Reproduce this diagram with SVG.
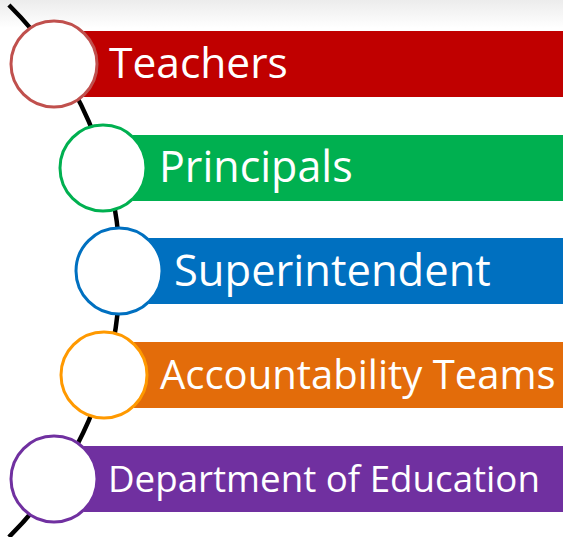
<svg xmlns="http://www.w3.org/2000/svg" width="563" height="537" viewBox="0 0 563 537">
<defs>
<linearGradient id="topfade" x1="0" y1="0" x2="0" y2="1">
<stop offset="0" stop-color="#ececec"/>
<stop offset="1" stop-color="#ffffff"/>
</linearGradient>
<style>
.bar{stroke:none}
.dot{fill:#ffffff;stroke-width:3}
.lbl{font-family:"Open Sans","Liberation Sans",sans-serif;fill:#ffffff}
.arc{fill:none;stroke:#000000;stroke-width:4.5}
</style>
</defs>
<rect x="0" y="0" width="563" height="537" fill="#ffffff"/>
<rect x="0" y="0" width="563" height="28" fill="url(#topfade)"/>
<g id="connectors">
<path class="arc" d="M 8.9 5 A 374 374 0 0 1 8.9 537"/>
</g>
<g id="teachers">
<rect class="bar" x="84" y="31" width="479" height="66" fill="#C00000"/>
<circle class="dot" cx="54" cy="64" r="43" stroke="#C0504D"/>
<text class="lbl" x="109" y="78" font-size="42.5">Teachers</text>
</g>
<g id="principals">
<rect class="bar" x="133" y="135" width="430" height="66" fill="#00B050"/>
<circle class="dot" cx="103" cy="168" r="43" stroke="#00B050"/>
<text class="lbl" x="159" y="182" font-size="43">Principals</text>
</g>
<g id="superintendent">
<rect class="bar" x="149" y="238" width="414" height="66" fill="#0070C0"/>
<circle class="dot" cx="119" cy="271" r="43" stroke="#0070C0"/>
<text class="lbl" x="174" y="286" font-size="43.5">Superintendent</text>
</g>
<g id="accountability">
<rect class="bar" x="134" y="342" width="429" height="66" fill="#E36C0A"/>
<circle class="dot" cx="104" cy="375" r="43" stroke="#FF9900"/>
<text class="lbl" x="160" y="389" font-size="40">Accountability Teams</text>
</g>
<g id="department">
<rect class="bar" x="84" y="446" width="479" height="66" fill="#7030A0"/>
<circle class="dot" cx="54" cy="479" r="43" stroke="#7030A0"/>
<text class="lbl" x="108" y="492" font-size="36.7">Department of Education</text>
</g>
</svg>
